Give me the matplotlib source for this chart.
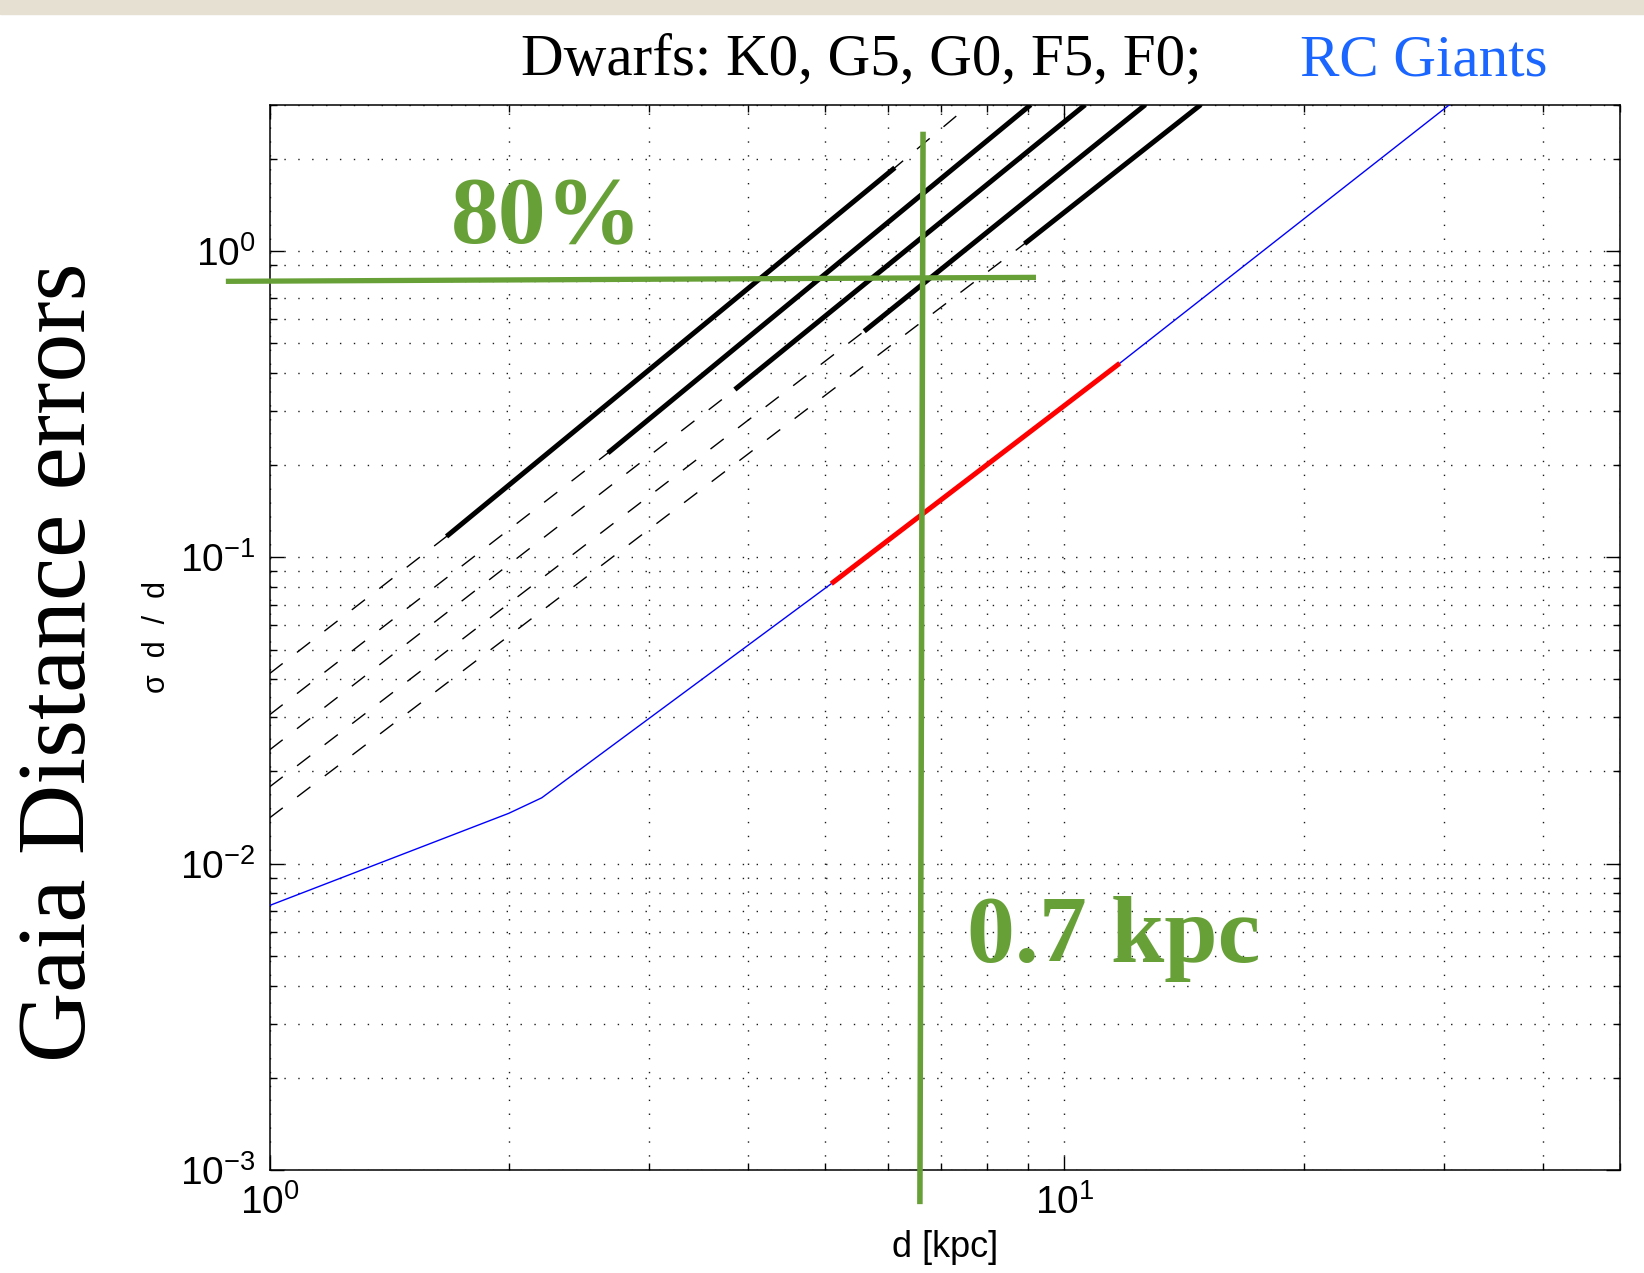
import matplotlib
matplotlib.use("Agg")
import matplotlib.pyplot as plt
from matplotlib.patches import Rectangle
from matplotlib.ticker import NullFormatter

plt.rcParams.update({"font.family": ["Liberation Sans", "DejaVu Sans"], "mathtext.default": "regular"})

# dwarf stars: sigma_d/d vs d, thin dashed = full track, thick = usable range
star_types = ["K0", "G5", "G0", "F5", "F0"]
dash_d = [[1.0, 1.67, 6.12, 7.6], [1.0, 2.665, 9.07], [1.0, 3.85, 10.62], [1.0, 5.6, 12.64], [1.0, 8.91, 14.84]]
dash_sig = [[0.0417, 0.117, 1.87, 3.0], [0.0306, 0.219, 3.0], [0.0235, 0.353, 3.0], [0.0178, 0.547, 3.0], [0.0141, 1.056, 3.0]]
solid_d = [[1.67, 6.12], [2.665, 9.07], [3.85, 10.62], [5.6, 12.64], [8.91, 14.84]]
solid_sig = [[0.117, 1.87], [0.219, 3.0], [0.353, 3.0], [0.547, 3.0], [1.056, 3.0]]

# red clump giants
rc_d = [1.0, 2.0, 2.2, 5.09, 11.74, 30.5]
rc_sig = [0.0073, 0.0146, 0.0164, 0.082, 0.43, 3.0]
rc_sel_d = [5.09, 11.74]
rc_sel_sig = [0.082, 0.43]

# hand-drawn green cuts (80 % error, 0.7 kpc)
cut_h_d = [0.888, 9.14]
cut_h_sig = [0.796, 0.820]
cut_v_d = [6.64, 6.58]
cut_v_sig = [2.40, 0.00079]

W, H = 1644, 1273
fig = plt.figure(figsize=(W / 100, H / 100), dpi=100)
fig.patches.append(Rectangle((0, 1 - 14 / H), 1, 14 / H, transform=fig.transFigure,
                             color="#e6e0d2", zorder=0))
ax = fig.add_axes([269.5 / W, 1 - 1170 / H, (1620 - 269.5) / W, (1170 - 104.8) / H])
ax.set_xscale("log"); ax.set_yscale("log")
ax.set_xlim(1, 50); ax.set_ylim(1e-3, 3.0)

green = "#68a038"
for dd, ds, sd, ss in zip(dash_d, dash_sig, solid_d, solid_sig):
    ax.plot(dd, ds, color="k", lw=1.0, ls=(0, (12, 13)), zorder=3)
    ax.plot(sd, ss, color="k", lw=3.6, solid_capstyle="butt", zorder=4)
ax.plot(rc_d, rc_sig, color="#0000ff", lw=1.0, zorder=3)
ax.plot(rc_sel_d, rc_sel_sig, color="#ff0000", lw=3.6, solid_capstyle="butt", zorder=4)
ax.plot(cut_h_d, cut_h_sig, color=green, lw=3.8, clip_on=False, zorder=6)
ax.plot(cut_v_d, cut_v_sig, color=green, lw=4.0, clip_on=False, zorder=6)

ax.grid(True, which="both", color="0.1", lw=1.0, ls=(0, (1, 9)))
ax.tick_params(which="both", direction="in", top=True, right=True, width=1.0)
ax.tick_params(which="major", length=10, labelsize=28, pad=10)
ax.tick_params(which="minor", length=5)
ax.xaxis.set_minor_formatter(NullFormatter()); ax.yaxis.set_minor_formatter(NullFormatter())
for s in ax.spines.values():
    s.set_linewidth(1.1)
ax.set_xlabel("d [kpc]", fontsize=26, labelpad=6)

fig.text(157 / W, 1 - 637 / H, "σ  d  /  d", rotation=90, ha="center", va="center", fontsize=22)
fig.text(62 / W, 1 - 662 / H, "Gaia Distance errors", rotation=90, ha="center", va="center",
         fontsize=70, family="Liberation Serif")
fig.text(521 / W, 1 - 75 / H, "Dwarfs: K0, G5, G0, F5, F0;", ha="left", va="baseline",
         fontsize=42.5, family="Liberation Serif")
fig.text(1300 / W, 1 - 75 / H, "RC Giants", ha="left", va="baseline", fontsize=42.5,
         family="Liberation Serif", color="#1a66ff")
fig.text(451 / W, 1 - 243 / H, "80%", ha="left", va="baseline", fontsize=69,
         family="Liberation Serif", weight="bold", color=green)
fig.text(967 / W, 1 - 962 / H, "0.7 kpc", ha="left", va="baseline", fontsize=69,
         family="Liberation Serif", weight="bold", color=green)

fig.savefig("out.png", dpi=100)
